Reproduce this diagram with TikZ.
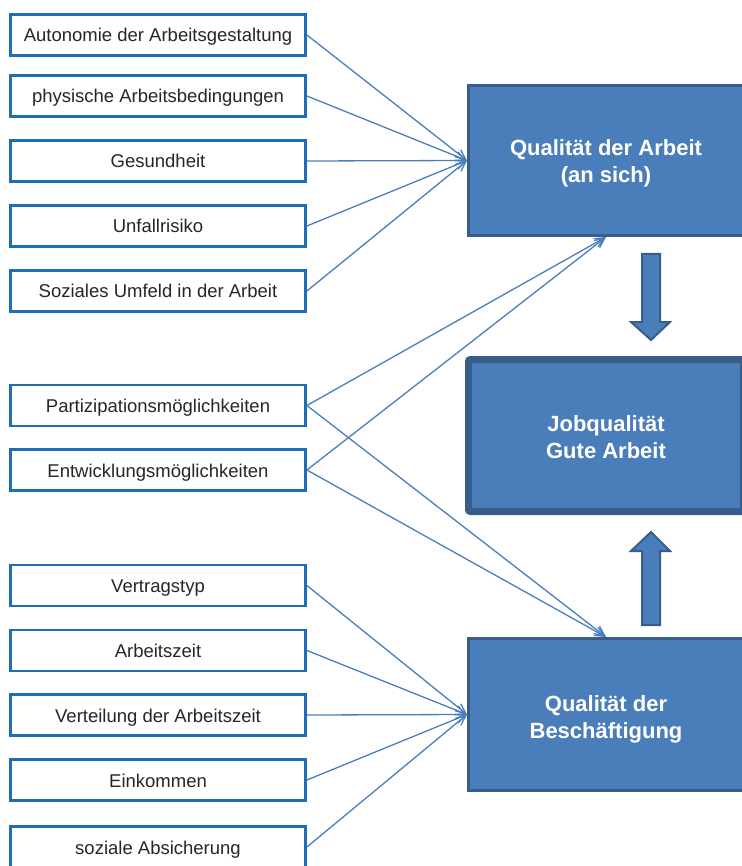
\documentclass[tikz,border=0pt]{standalone}
\usepackage{fontspec}
\setmainfont{Liberation Sans}
\usetikzlibrary{arrows.meta,calc}
\definecolor{boxline}{HTML}{1E6DB5}
\definecolor{arrline}{HTML}{4A7EBB}
\definecolor{bigfill}{HTML}{4A7EBB}
\definecolor{bigline}{HTML}{385D8A}
\definecolor{txt}{HTML}{262626}
\begin{document}
\begin{tikzpicture}[x=1pt,y=-1pt,
  smallbox/.style={draw=boxline, line width=2.8pt, fill=white, minimum width=295pt, minimum height=41pt,
    inner sep=0pt, text height=14pt, text depth=0pt, text=txt, font=\fontsize{18.5}{22}\selectfont},
  bigbox/.style={draw=bigline, line width=3pt, fill=bigfill, minimum width=275pt, minimum height=150pt,
    inner sep=0pt, text height=45pt, text depth=0pt, text=white, align=center, font=\fontsize{22}{27}\selectfont\bfseries},
  conn/.style={draw=arrline, line width=1.3pt, -{Straight Barb[length=10pt,width=9pt,line width=1.3pt]}},
  blockarrow/.style={draw=bigline, line width=2pt, fill=bigfill, line join=miter}
]
\useasboundingbox (0,0) rectangle (741,866);

% left boxes
\node[smallbox] (b1) at (158,35) {Autonomie der Arbeitsgestaltung};
\node[smallbox] (b2) at (158,96) {physische Arbeitsbedingungen};
\node[smallbox] (b3) at (158,161) {Gesundheit};
\node[smallbox] (b4) at (158,226) {Unfallrisiko};
\node[smallbox] (b5) at (158,291) {Soziales Umfeld in der Arbeit};
\node[smallbox] (b6) at (158,405.5) {Partizipationsmöglichkeiten};
\node[smallbox] (b7) at (158,470) {Entwicklungsmöglichkeiten};
\node[smallbox] (b8) at (158,585.5) {Vertragstyp};
\node[smallbox] (b9) at (158,650.5) {Arbeitszeit};
\node[smallbox] (b10) at (158,715) {Verteilung der Arbeitszeit};
\node[smallbox] (b11) at (158,780) {Einkommen};
\node[smallbox] (b12) at (158,847) {soziale Absicherung};

% big boxes
\node[bigbox] (qa) at (606,160.5) {Qualität der Arbeit\\(an sich)};
\node[bigbox, line width=7pt, minimum width=275pt, minimum height=152pt, rounded corners=2pt] (jq) at (606,435.5) {Jobqualität\\Gute Arbeit};
\node[bigbox, minimum height=152pt, text height=47pt] (qb) at (606,714.5) {Qualität der\\Beschäftigung};

% connectors
\foreach \b in {b1,b2,b3,b4,b5} \draw[conn] (\b.east) -- (qa.west);
\draw[conn] (b6.east) -- (qa.south);
\draw[conn] (b7.east) -- (qa.south);
\draw[conn] (b6.east) -- (qb.north);
\draw[conn] (b7.east) -- (qb.north);
\foreach \b in {b8,b9,b10,b11,b12} \draw[conn] (\b.east) -- (qb.west);

% block arrows
\draw[blockarrow] (642,254) -- (660,254) -- (660,322) -- (670,322) -- (651,340) -- (631,322) -- (642,322) -- cycle;
\draw[blockarrow] (642,625) -- (660,625) -- (660,551) -- (670,551) -- (651,532) -- (631,551) -- (642,551) -- cycle;
\end{tikzpicture}
\end{document}
